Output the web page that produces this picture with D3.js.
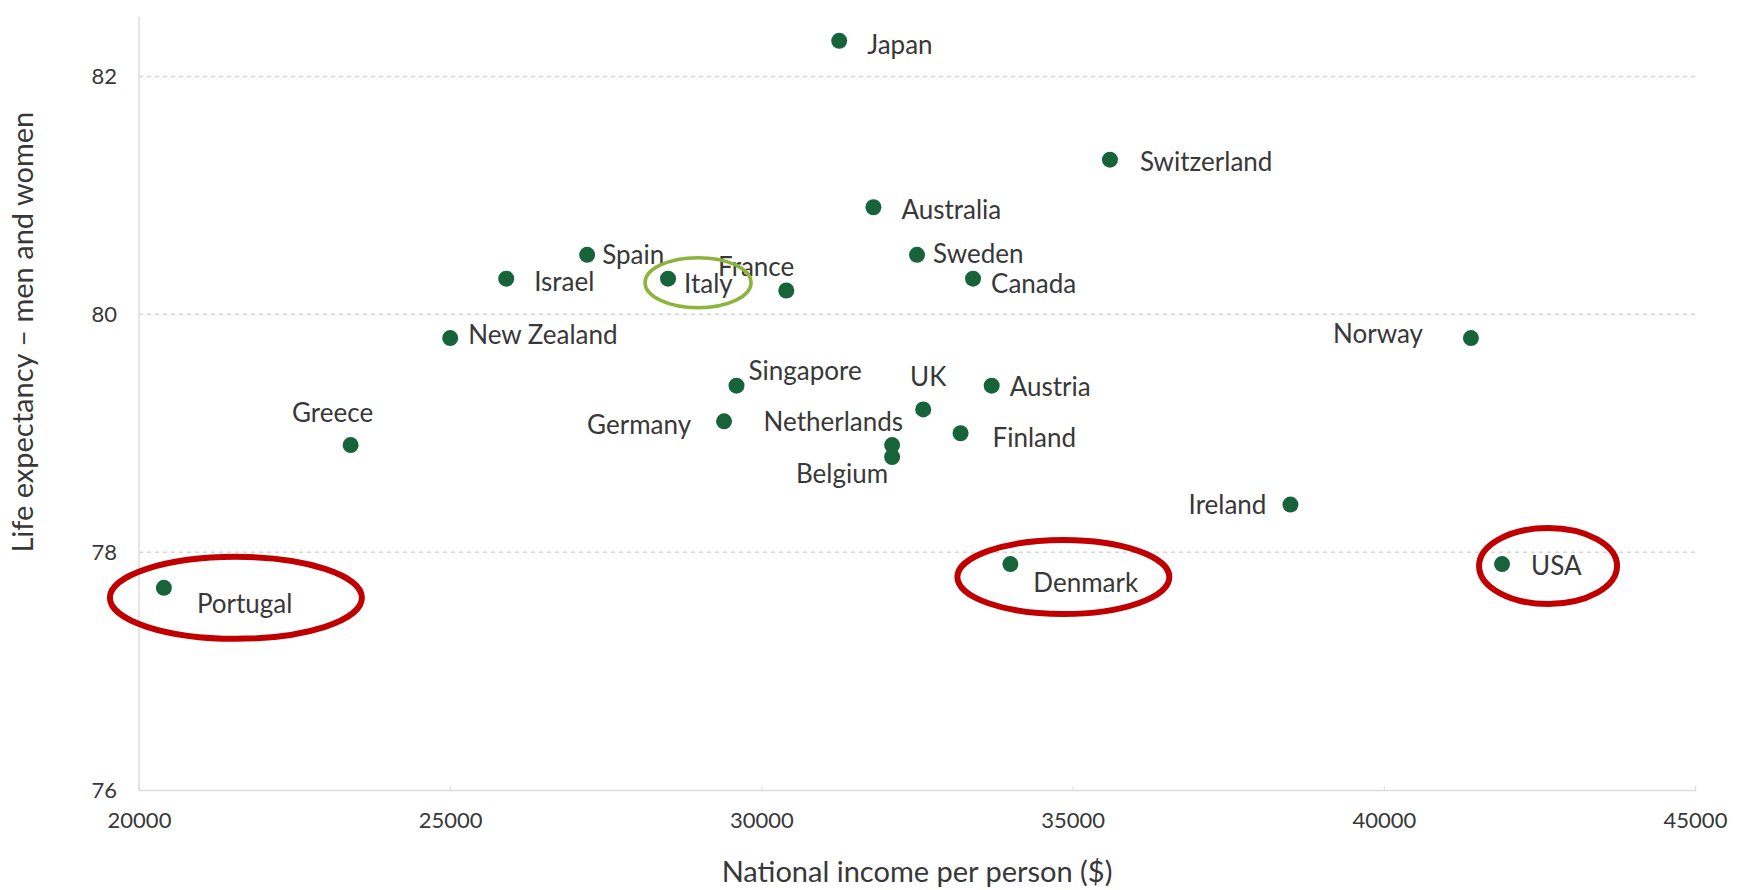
<!DOCTYPE html>
<html>
<head>
<meta charset="utf-8">
<script src="https://cdn.jsdelivr.net/npm/d3@7"></script>
<style>
  body { margin: 0; background: #fff; }
  text { font-family: "Lato", "Open Sans", sans-serif; fill: #383838; }
</style>
</head>
<body>
<div id="chart"></div>
<script>
var width = 1743;
var height = 890;

// data
var countries = ["Japan", "Switzerland", "Australia", "Sweden", "Spain", "Israel", "Italy", "France",
                 "Canada", "New Zealand", "Norway", "Singapore", "Austria", "UK", "Germany", "Finland",
                 "Netherlands", "Belgium", "Greece", "Ireland", "Denmark", "USA", "Portugal"];
var income = [31250, 35600, 31800, 32500, 27200, 25900, 28500, 30400,
              33400, 25000, 41400, 29600, 33700, 32600, 29400, 33200,
              32100, 32100, 23400, 38500, 34000, 41900, 20400];
var lifeExp = [82.3, 81.3, 80.9, 80.5, 80.5, 80.3, 80.3, 80.2,
               80.3, 79.8, 79.8, 79.4, 79.4, 79.2, 79.1, 79.0,
               78.9, 78.8, 78.9, 78.4, 77.9, 77.9, 77.7];
var xTicks = [20000, 25000, 30000, 35000, 40000, 45000];
var yTicks = [76, 78, 80, 82];

var xTitle = "National income per person ($)";
var yTitle = "Life expectancy \u2013 men and women";

// label placement: [dx, dy, anchor]
var labelPos = {
  "Japan": [28, 4, "start"], "Switzerland": [30, 2, "start"], "Australia": [28, 3, "start"],
  "Sweden": [16, -1, "start"], "Spain": [15, 0, "start"], "Israel": [28, 3, "start"],
  "Italy": [16, 5, "start"], "France": [8, -24, "end"], "Canada": [18, 5, "start"],
  "New Zealand": [18, -3, "start"], "Norway": [-48, -4, "end"], "Singapore": [12, -15, "start"],
  "Austria": [18, 1, "start"], "UK": [5, -33, "middle"], "Germany": [-33, 4, "end"],
  "Finland": [32, 5, "start"], "Netherlands": [11, -23, "end"], "Belgium": [-4, 17, "end"],
  "Greece": [-18, -32, "middle"], "Ireland": [-24, 0, "end"], "Denmark": [23, 19, "start"],
  "USA": [29, 2, "start"], "Portugal": [33, 16, "start"]
};

// highlight rings: country, dx, dy, rx, ry, colour
var rings = [
  ["Portugal", 72, 10, 126, 41, "#c00000"],
  ["Denmark", 53, 13, 106, 37, "#c00000"],
  ["USA", 46, 2, 69, 38, "#c00000"],
  ["Italy", 30, 4, 53, 25, "#8db33f"]
];

var margin = {left: 139, right: 48, top: 17, bottom: 100};

var svg = d3.select("#chart").append("svg")
  .attr("width", width)
  .attr("height", height);

var x = d3.scaleLinear().domain([20000, 45000]).range([margin.left, width - margin.right]);
var y = d3.scaleLinear().domain([76, 82.5]).range([height - margin.bottom, margin.top]);

// gridlines
svg.append("g").selectAll("line")
  .data(yTicks.filter(function(d) { return d > 76; }))
  .enter().append("line")
  .attr("x1", x(20000)).attr("x2", x(45000))
  .attr("y1", function(d) { return y(d); }).attr("y2", function(d) { return y(d); })
  .style("stroke", "#d6d6d6")
  .style("stroke-dasharray", "4,4")
  .style("stroke-width", 1.5);

// axes
var xAxis = svg.append("g")
  .attr("transform", "translate(0," + y(76) + ")")
  .call(d3.axisBottom(x).tickValues(xTicks).tickSize(-4).tickPadding(22).tickFormat(d3.format("d")));
var yAxis = svg.append("g")
  .attr("transform", "translate(" + x(20000) + ",0)")
  .call(d3.axisLeft(y).tickValues(yTicks).tickSize(0).tickPadding(22).tickFormat(d3.format("d")));

[xAxis, yAxis].forEach(function(g) {
  g.select(".domain").style("stroke", "#dcdcdc").style("stroke-width", 1.5);
  g.selectAll(".tick line").style("stroke", "#dcdcdc");
  g.selectAll(".tick text").style("font-size", "22px").style("fill", "#383838")
    .style("font-family", "Lato, 'Open Sans', sans-serif");
});
yAxis.select(".domain").attr("d", "M0," + y(82.5) + "V" + y(76));

// titles
svg.append("text")
  .attr("x", (x(20000) + x(45000)) / 2)
  .attr("y", 882)
  .attr("text-anchor", "middle")
  .style("font-size", "29px")
  .text(xTitle);

svg.append("text")
  .attr("transform", "translate(33," + y(79.85) + ") rotate(-90)")
  .attr("text-anchor", "middle")
  .style("font-size", "29px")
  .text(yTitle);

var data = countries.map(function(c, i) { return {name: c, x: income[i], y: lifeExp[i]}; });
var byName = {};
data.forEach(function(d) { byName[d.name] = d; });

// points
svg.append("g").selectAll("circle")
  .data(data)
  .enter().append("circle")
  .attr("cx", function(d) { return x(d.x); })
  .attr("cy", function(d) { return y(d.y); })
  .attr("r", 8)
  .style("fill", "#17633a");

// labels
svg.append("g").selectAll("text")
  .data(data)
  .enter().append("text")
  .attr("x", function(d) { return x(d.x) + labelPos[d.name][0]; })
  .attr("y", function(d) { return y(d.y) + labelPos[d.name][1]; })
  .attr("dy", "0.35em")
  .attr("text-anchor", function(d) { return labelPos[d.name][2]; })
  .style("font-size", "26px")
  .text(function(d) { return d.name; });

// rings
svg.append("g").selectAll("ellipse")
  .data(rings)
  .enter().append("ellipse")
  .attr("cx", function(r) { return x(byName[r[0]].x) + r[1]; })
  .attr("cy", function(r) { return y(byName[r[0]].y) + r[2]; })
  .attr("rx", function(r) { return r[3]; })
  .attr("ry", function(r) { return r[4]; })
  .style("fill", "none")
  .style("stroke", function(r) { return r[5]; })
  .style("stroke-width", function(r) { return r[5] == "#c00000" ? 6 : 3.5; });
</script>
</body>
</html>
